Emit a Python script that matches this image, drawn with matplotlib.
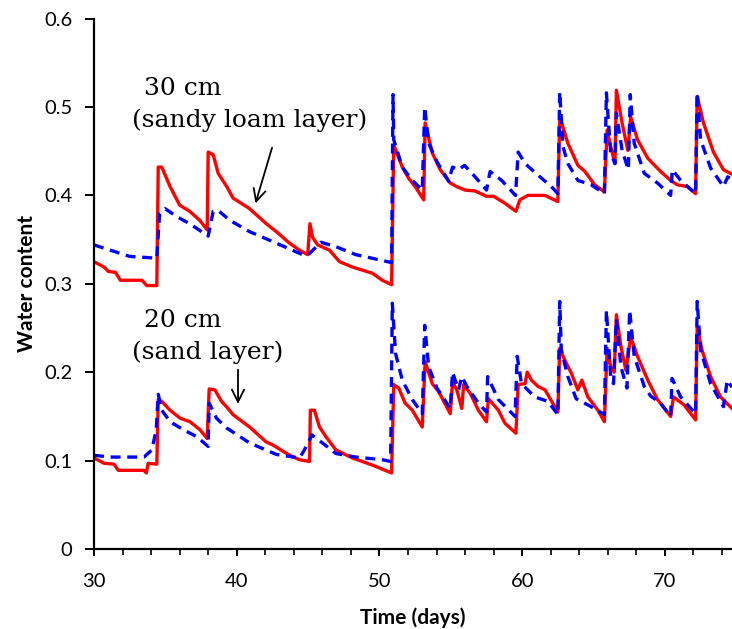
import matplotlib
matplotlib.use("Agg")
import matplotlib.pyplot as plt
from matplotlib.ticker import MultipleLocator

# 30 cm (sandy loam layer) - red solid
r30_t = [30.0, 30.7, 31.0, 31.5, 31.85, 33.36, 33.7, 34.4, 34.5, 34.75, 35.33, 36.0, 36.7, 37.4, 37.93,
         38.0, 38.35, 38.7, 39.3, 39.74, 40.9, 42.07, 42.77, 43.7, 44.4, 44.97, 45.13, 45.3, 45.67, 46.5,
         47.2, 48.1, 49.5, 50.2, 50.85, 51.0, 51.6, 52.06, 52.5, 53.1, 53.2, 53.7, 54.26, 54.96, 55.4,
         56.0, 56.7, 57.5, 58.0, 58.8, 59.56, 59.84, 60.4, 61.6, 62.5, 62.63, 63.2, 63.9, 64.4, 65.07,
         65.76, 65.95, 66.2, 66.5, 66.6, 67.0, 67.4, 67.6, 68.08, 68.8, 69.7, 70.4, 70.87, 71.57, 72.15,
         72.26, 72.7, 73.4, 74.1, 74.7]
r30_w = [0.325, 0.319, 0.314, 0.313, 0.304, 0.304, 0.298, 0.298, 0.432, 0.432, 0.41, 0.389, 0.382, 0.372, 0.361,
         0.449, 0.446, 0.425, 0.41, 0.397, 0.385, 0.368, 0.359, 0.346, 0.338, 0.333, 0.368, 0.353, 0.344, 0.338,
         0.325, 0.319, 0.312, 0.304, 0.299, 0.457, 0.432, 0.419, 0.41, 0.395, 0.482, 0.448, 0.429, 0.414, 0.41,
         0.406, 0.405, 0.399, 0.399, 0.391, 0.382, 0.395, 0.4, 0.40, 0.393, 0.489, 0.459, 0.434, 0.427, 0.412,
         0.404, 0.474, 0.455, 0.436, 0.519, 0.482, 0.451, 0.489, 0.463, 0.442, 0.427, 0.417, 0.412, 0.41, 0.402,
         0.512, 0.482, 0.449, 0.429, 0.424]

# 30 cm - blue dashed
b30_t = [30.0, 31.15, 32.5, 34.4, 34.6, 34.98, 35.8, 36.7, 38.0, 38.35, 38.7, 39.5, 40.9, 42.77, 44.6,
         45.08, 45.9, 46.95, 48.34, 50.85, 50.95, 51.0, 51.6, 52.3, 53.0, 53.17, 53.45, 54.03, 54.85, 55.12,
         55.54, 55.96, 56.7, 57.5, 57.75, 58.56, 59.53, 59.72, 60.2, 61.1, 62.04, 62.5, 62.63, 62.86, 63.2,
         63.9, 64.83, 65.76, 65.9, 66.2, 66.5, 66.6, 67.0, 67.44, 67.57, 67.85, 68.55, 69.48, 70.4, 70.52,
         71.1, 72.15, 72.26, 72.5, 73.2, 74.1, 74.4, 74.7]
b30_w = [0.344, 0.338, 0.331, 0.329, 0.38, 0.385, 0.376, 0.368, 0.354, 0.382, 0.383, 0.372, 0.359, 0.346, 0.333,
         0.334, 0.347, 0.342, 0.333, 0.324, 0.514, 0.463, 0.432, 0.417, 0.406, 0.50, 0.459, 0.438, 0.416, 0.432,
         0.429, 0.434, 0.421, 0.406, 0.427, 0.417, 0.40, 0.449, 0.436, 0.423, 0.41, 0.402, 0.517, 0.455, 0.436,
         0.417, 0.412, 0.402, 0.516, 0.448, 0.436, 0.493, 0.451, 0.429, 0.514, 0.459, 0.425, 0.414, 0.40, 0.429,
         0.417, 0.402, 0.516, 0.463, 0.431, 0.41, 0.421, 0.418]

# 20 cm (sand layer) - red solid
r20_t = [30.0, 30.7, 31.4, 31.7, 33.5, 33.66, 33.8, 34.4, 34.5, 34.75, 35.33, 36.03, 36.72, 37.42, 37.93,
         38.07, 38.47, 38.93, 39.28, 39.74, 40.9, 42.07, 42.5, 43.7, 44.4, 45.1, 45.16, 45.44, 45.8, 46.25,
         46.95, 48.1, 49.5, 50.85, 51.0, 51.35, 51.8, 52.3, 53.0, 53.2, 53.7, 54.15, 54.96, 55.12, 55.42,
         55.77, 55.9, 56.36, 56.93, 57.5, 57.63, 58.33, 58.8, 59.56, 59.72, 60.2, 60.35, 60.65, 61.1, 61.6,
         62.5, 62.63, 62.97, 63.44, 63.9, 64.18, 64.6, 65.3, 65.76, 65.95, 66.2, 66.45, 66.6, 66.92, 67.27,
         67.6, 68.08, 68.8, 69.48, 70.4, 70.6, 71.34, 72.15, 72.26, 72.6, 73.2, 73.9, 74.7]
r20_w = [0.103, 0.097, 0.096, 0.089, 0.089, 0.086, 0.097, 0.096, 0.169, 0.167, 0.157, 0.148, 0.144, 0.135, 0.125,
         0.181, 0.180, 0.167, 0.161, 0.152, 0.138, 0.121, 0.118, 0.106, 0.101, 0.099, 0.157, 0.157, 0.138, 0.127,
         0.112, 0.103, 0.095, 0.086, 0.186, 0.182, 0.165, 0.157, 0.138, 0.212, 0.187, 0.178, 0.153, 0.189, 0.18,
         0.159, 0.186, 0.176, 0.157, 0.144, 0.170, 0.157, 0.142, 0.131, 0.186, 0.187, 0.2, 0.191, 0.184, 0.18,
         0.155, 0.227, 0.214, 0.199, 0.18, 0.191, 0.172, 0.157, 0.144, 0.227, 0.206, 0.2, 0.265, 0.229, 0.202,
         0.24, 0.218, 0.191, 0.169, 0.15, 0.172, 0.163, 0.146, 0.251, 0.225, 0.195, 0.172, 0.159]

# 20 cm - blue dashed
b20_t = [30.0, 31.15, 32.5, 33.5, 34.05, 34.36, 34.5, 34.75, 35.33, 36.26, 37.2, 38.0, 38.07, 38.58, 39.28,
         40.9, 42.77, 44.4, 44.74, 45.27, 46.0, 46.95, 48.34, 50.2, 50.78, 50.9, 51.13, 51.6, 52.3, 53.0,
         53.17, 53.45, 54.03, 54.96, 55.12, 55.54, 55.77, 56.12, 56.93, 57.5, 57.58, 58.33, 59.5, 59.65, 59.95,
         60.88, 61.8, 62.5, 62.63, 62.74, 63.2, 63.78, 64.83, 65.76, 65.9, 66.2, 66.4, 66.6, 66.92, 67.34,
         67.53, 67.85, 68.55, 69.0, 69.7, 70.4, 70.5, 71.1, 72.15, 72.26, 72.5, 73.2, 74.1, 74.37, 74.7]
b20_w = [0.106, 0.104, 0.104, 0.104, 0.112, 0.135, 0.175, 0.157, 0.144, 0.135, 0.127, 0.116, 0.165, 0.148, 0.137,
         0.12, 0.107, 0.103, 0.112, 0.129, 0.12, 0.108, 0.104, 0.101, 0.099, 0.278, 0.221, 0.191, 0.169, 0.153,
         0.253, 0.206, 0.182, 0.159, 0.2, 0.18, 0.195, 0.184, 0.165, 0.155, 0.195, 0.169, 0.15, 0.218, 0.187,
         0.172, 0.167, 0.152, 0.28, 0.225, 0.195, 0.17, 0.161, 0.152, 0.27, 0.195, 0.187, 0.26, 0.206, 0.182,
         0.27, 0.218, 0.184, 0.173, 0.165, 0.15, 0.193, 0.172, 0.153, 0.28, 0.225, 0.187, 0.161, 0.191, 0.183]

y_ticks = [0, 0.1, 0.2, 0.3, 0.4, 0.5, 0.6]
y_labels = ["0", "0.1", "0.2", "0.3", "0.4", "0.5", "0.6"]

fig = plt.figure(figsize=(7.32, 6.29), dpi=100)
ax = fig.add_axes([94 / 732, 1 - 549 / 629, 1 - 94 / 732, (549 - 18.6) / 629])

red = "#ff0000"
blue = "#0000ff"
ax.plot(r30_t, r30_w, color=red, lw=2.4)
ax.plot(r20_t, r20_w, color=red, lw=2.4)
ax.plot(b30_t, b30_w, color=blue, lw=2.4, ls=(0, (3, 2)))
ax.plot(b20_t, b20_w, color=blue, lw=2.4, ls=(0, (3, 2)))

ax.set_xlim(30, 74.7)
ax.set_ylim(0, 0.6)
ax.xaxis.set_major_locator(MultipleLocator(10))
ax.xaxis.set_minor_locator(MultipleLocator(2))
ax.set_yticks(y_ticks)
ax.set_yticklabels(y_labels)

for s in ["top", "right"]:
    ax.spines[s].set_visible(False)
for s in ["left", "bottom"]:
    ax.spines[s].set_linewidth(1.6)

ax.tick_params(axis="x", which="major", direction="out", length=5, width=1.4,
               labelsize=14.5, pad=12)
ax.tick_params(axis="x", which="minor", direction="out", length=4, width=1.2)
ax.tick_params(axis="y", which="major", direction="out", length=6.5, width=1.4,
               labelsize=14.5, pad=9)
for lab in ax.get_xticklabels() + ax.get_yticklabels():
    lab.set_fontfamily("Lato")

ax.set_xlabel("Time (days)", fontsize=15, fontweight="bold", family="Lato", labelpad=13)
ax.set_ylabel("Water content", fontsize=15, fontweight="bold", family="Lato", labelpad=5)

serif = "DejaVu Serif"
ax.text(36.2, 0.521, "30 cm", fontsize=18, family=serif, ha="center", va="center")
ax.text(40.9, 0.485, "(sandy loam layer)", fontsize=18, family=serif, ha="center", va="center")
ax.annotate("", xy=(41.26, 0.388), xytext=(42.53, 0.457),
            arrowprops=dict(arrowstyle="->", color="black", lw=1.3, mutation_scale=22))

ax.text(36.2, 0.258, "20 cm", fontsize=18, family=serif, ha="center", va="center")
ax.text(37.94, 0.223, "(sand layer)", fontsize=18, family=serif, ha="center", va="center")
ax.annotate("", xy=(40.09, 0.161), xytext=(40.09, 0.206),
            arrowprops=dict(arrowstyle="->", color="black", lw=1.3, mutation_scale=22))

fig.savefig("out.png", dpi=100)
